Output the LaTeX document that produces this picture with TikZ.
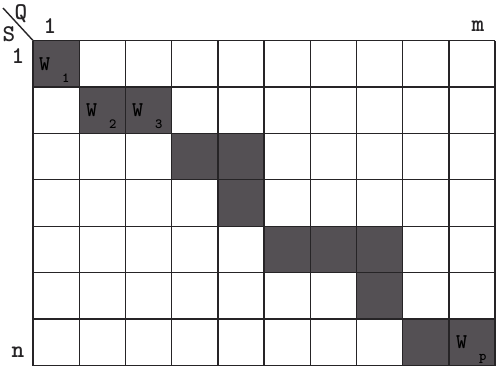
\documentclass[tikz,border=0pt]{standalone}
\usepackage{tikz}
\usepackage{xcolor}
\definecolor{cellgray}{HTML}{545054}
\definecolor{inkgray}{HTML}{262426}
\newcommand{\wCell}[1]{W\hspace{12pt}\raisebox{-12pt}{\fontsize{14}{14}\selectfont #1}}

\begin{document}
\begin{tikzpicture}[x=1pt,y=-1pt,
  axislabel/.style={font={\ttfamily\bfseries\fontsize{24}{24}\selectfont}, text=inkgray, inner sep=0pt},
  wlabel/.style={font={\ttfamily\bfseries\fontsize{21}{21}\selectfont}, text=black, anchor=base west, inner sep=0pt},
  gridline/.style={draw=inkgray, line width=1.4pt}]
\useasboundingbox (0,0) rectangle (498,370);
\fill[white] (0,0) rectangle (498,370);
% shaded cells: row/column
\foreach \r/\c in {1/1,2/2,2/3,3/4,3/5,4/5,5/6,5/7,5/8,6/8,7/9,7/10}
  \fill[cellgray] ({33+(\c-1)*46.2},{40.5+(\r-1)*46.43}) rectangle ({33+\c*46.2},{40.5+\r*46.43});
% grid
\foreach \i in {0,...,10}
  \draw[gridline] ({33+\i*46.2},40.5) -- ({33+\i*46.2},365.5);
\foreach \j in {0,...,7}
  \draw[gridline] (33,{40.5+\j*46.43}) -- (495,{40.5+\j*46.43});
% corner
\coordinate (corner) at (33,40.5);
\coordinate (cornerend) at (3,8);
\draw[inkgray, line width=1.4pt] (corner) -- (cornerend);
\node[axislabel] (Q) at (21,14) {Q};
\node[axislabel] (S) at (9,34) {S};
\node[axislabel] (colone) at (50,26) {1};
\node[axislabel] (colm) at (478,26) {m};
\node[axislabel] (rowone) at (18,56) {1};
\node[axislabel] (rown) at (18,352) {n};
% weights
\node[wlabel] (W1) at (39,70) {\wCell{1}};
\node[wlabel] (W2) at (86,116) {\wCell{2}};
\node[wlabel] (W3) at (132,116) {\wCell{3}};
\node[wlabel] (Wp) at (456,348) {\wCell{p}};
\end{tikzpicture}
\end{document}
